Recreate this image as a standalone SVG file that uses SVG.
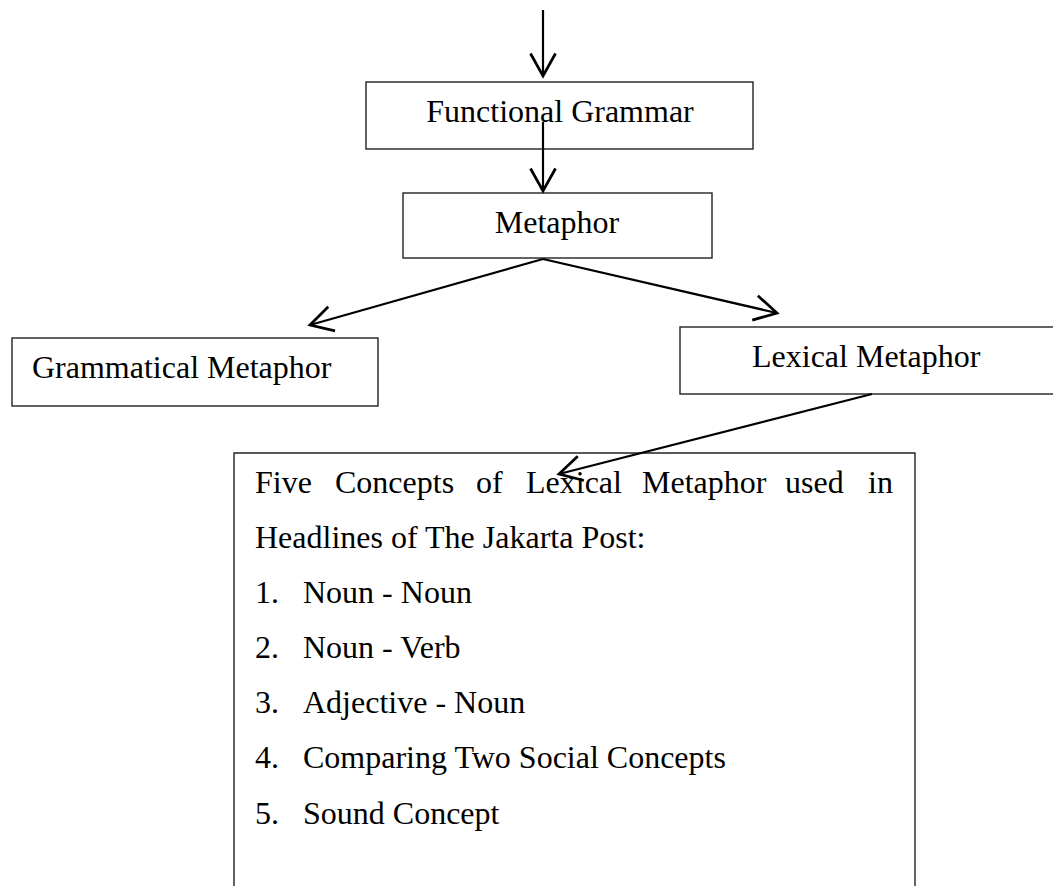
<svg xmlns="http://www.w3.org/2000/svg" width="1053" height="886" viewBox="0 0 1053 886">
<style>
.box{fill:none;stroke:#222;stroke-width:1.4}
.t{font-family:"Liberation Serif","Times New Roman",serif;font-size:32px;fill:#000}
.c{text-anchor:middle}
.arr{fill:none;stroke:#000;stroke-width:2.2;marker-end:url(#ah)}
</style>
<defs>
<marker id="ah" markerUnits="userSpaceOnUse" markerWidth="30" markerHeight="30" viewBox="-20 -12 24 24" refX="0" refY="0" orient="auto" overflow="visible">
<path d="M-18,-10 L0,0 L-18,10" fill="none" stroke="#000" stroke-width="2.2"/>
</marker>
</defs>
<rect width="1053" height="886" fill="#fff"/>
<g id="functional-grammar">
<rect class="box" x="366" y="82" width="387" height="67"/>
<text class="t c" x="560" y="122">Functional Grammar</text>
</g>
<g id="metaphor">
<rect class="box" x="403" y="193" width="309" height="65"/>
<text class="t c" x="557" y="233">Metaphor</text>
</g>
<g id="grammatical-metaphor">
<rect class="box" x="12" y="338" width="366" height="68"/>
<text class="t" x="32" y="378">Grammatical Metaphor</text>
</g>
<g id="lexical-metaphor">
<rect class="box" x="680" y="327" width="390" height="67"/>
<text class="t" x="752" y="367">Lexical Metaphor</text>
</g>
<g id="five-concepts">
<path class="box" d="M234,900 V453 H915 V900"/>
<text class="t" y="493"><tspan x="255">Five</tspan><tspan x="335">Concepts</tspan><tspan x="476">of</tspan><tspan x="526">Lexical</tspan><tspan x="642">Metaphor</tspan><tspan x="785">used</tspan><tspan x="868">in</tspan></text>
<text class="t" x="255" y="548">Headlines of The Jakarta Post:</text>
<text class="t" y="603"><tspan x="255">1.</tspan><tspan x="303">Noun - Noun</tspan></text>
<text class="t" y="658"><tspan x="255">2.</tspan><tspan x="303">Noun - Verb</tspan></text>
<text class="t" y="713"><tspan x="255">3.</tspan><tspan x="303">Adjective - Noun</tspan></text>
<text class="t" y="768"><tspan x="255">4.</tspan><tspan x="303">Comparing Two Social Concepts</tspan></text>
<text class="t" y="824"><tspan x="255">5.</tspan><tspan x="303">Sound Concept</tspan></text>
</g>
<g id="connectors">
<line class="arr" x1="543" y1="10" x2="543" y2="76"/>
<line class="arr" x1="543" y1="122" x2="543" y2="191"/>
<line class="arr" x1="543" y1="259" x2="310" y2="325"/>
<line class="arr" x1="543" y1="259" x2="777" y2="313"/>
<line class="arr" x1="872" y1="394" x2="559" y2="474"/>
</g>
</svg>
